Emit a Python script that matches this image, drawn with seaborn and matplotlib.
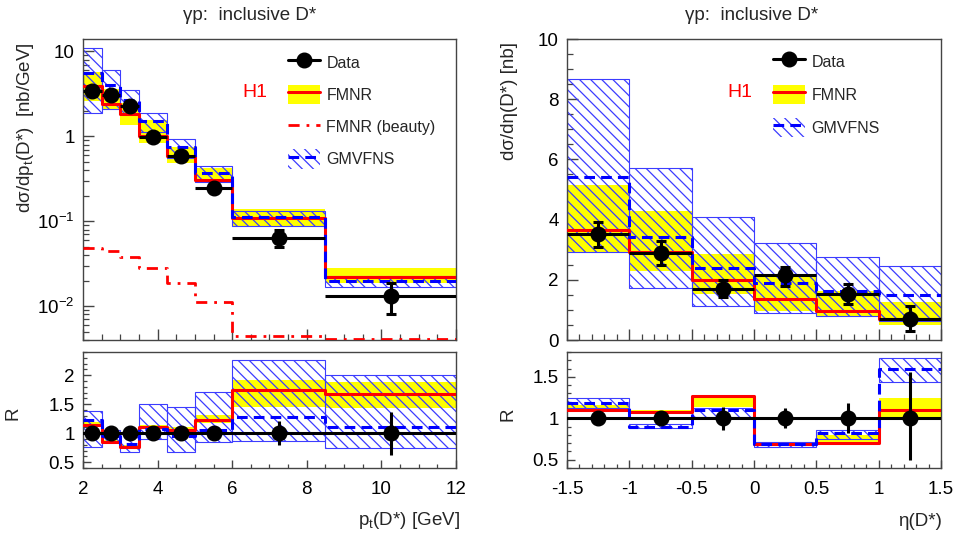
import numpy as np
import matplotlib
matplotlib.use("Agg")
import matplotlib.pyplot as plt
import seaborn as sns
from matplotlib.patches import Patch
from matplotlib.lines import Line2D
from matplotlib.ticker import (MultipleLocator, FixedLocator, FixedFormatter,
                               NullFormatter, FuncFormatter)

# ---------------- data: pt(D*) distribution ----------------
pt_edges = [2, 2.5, 3, 3.5, 4.25, 5, 6, 8.5, 12]
pt_data_x = [2.25, 2.75, 3.25, 3.87, 4.62, 5.5, 7.25, 10.25]
pt_data = [3.45, 3.1, 2.25, 0.98, 0.58, 0.25, 0.064, 0.0132]
pt_data_err_up = [0.45, 0.35, 0.22, 0.09, 0.055, 0.025, 0.015, 0.0055]
pt_data_err_dn = [0.45, 0.35, 0.22, 0.09, 0.055, 0.025, 0.014, 0.005]
pt_fmnr = [3.9, 2.4, 1.85, 1.02, 0.58, 0.306, 0.108, 0.0223]
pt_fmnr_lo = [2.6, 2.06, 1.37, 0.83, 0.48, 0.285, 0.087, 0.0186]
pt_fmnr_hi = [5.8, 3.6, 2.5, 1.57, 0.76, 0.42, 0.138, 0.0279]
pt_beauty = [0.049, 0.045, 0.0383, 0.0284, 0.0186, 0.0113, 0.00449, 0.0041]
pt_gmvfns = [5.6, 4.0, 2.69, 1.5, 0.76, 0.37, 0.113, 0.0198]
pt_gmvfns_lo = [1.9, 2.08, 1.85, 1.12, 0.55, 0.294, 0.088, 0.0167]
pt_gmvfns_hi = [11.0, 6.1, 3.55, 1.9, 0.93, 0.449, 0.134, 0.0226]

# ratio panel (pt)
r_pt_data_err = [0.06, 0.05, 0.05, 0.05, 0.06, 0.1, 0.21, 0.37]
r_pt_fmnr = [1.15, 0.85, 0.77, 1.11, 1.05, 1.22, 1.74, 1.67]
r_pt_fmnr_lo = [1.10, 0.82, 0.74, 1.07, 1.00, 1.17, 1.46, 1.44]
r_pt_fmnr_hi = [1.20, 0.88, 0.80, 1.15, 1.10, 1.32, 1.91, 1.88]
r_pt_gmvfns = [1.23, 0.95, 0.82, 1.08, 0.95, 1.05, 1.28, 1.11]
r_pt_gmvfns_lo = [0.77, 0.87, 0.68, 0.90, 0.67, 0.85, 0.86, 0.74]
r_pt_gmvfns_hi = [1.39, 1.06, 1.00, 1.51, 1.45, 1.71, 2.26, 2.01]

# ---------------- data: eta(D*) distribution ----------------
eta_edges = [-1.5, -1, -0.5, 0, 0.5, 1, 1.5]
eta_data_x = [-1.25, -0.75, -0.25, 0.25, 0.75, 1.25]
eta_data = [3.53, 2.9, 1.70, 2.17, 1.53, 0.70]
eta_data_err_up = [0.39, 0.39, 0.28, 0.25, 0.34, 0.44]
eta_data_err_dn = [0.44, 0.42, 0.28, 0.36, 0.33, 0.41]
eta_fmnr = [3.64, 2.92, 1.98, 1.37, 0.98, 0.70]
eta_fmnr_lo = [2.92, 2.29, 1.53, 0.98, 0.76, 0.51]
eta_fmnr_hi = [5.14, 4.28, 2.87, 2.20, 1.64, 1.26]
eta_gmvfns = [5.4, 3.42, 2.39, 1.89, 1.64, 1.5]
eta_gmvfns_lo = [2.92, 1.73, 1.14, 0.89, 0.81, 0.62]
eta_gmvfns_hi = [8.68, 5.72, 4.09, 3.23, 2.76, 2.46]

# ratio panel (eta)
r_eta_data_err_up = [0.04, 0.04, 0.14, 0.12, 0.18, 0.56]
r_eta_data_err_dn = [0.04, 0.04, 0.14, 0.12, 0.18, 0.50]
r_eta_fmnr = [1.10, 1.08, 1.27, 0.69, 0.70, 1.10]
r_eta_fmnr_lo = [1.08, 1.06, 1.14, 0.67, 0.70, 1.01]
r_eta_fmnr_hi = [1.16, 1.10, 1.26, 0.71, 0.80, 1.24]
r_eta_gmvfns = [1.19, 0.90, 1.10, 0.69, 0.82, 1.59]
r_eta_gmvfns_lo = [1.13, 0.88, 1.02, 0.65, 0.75, 1.44]
r_eta_gmvfns_hi = [1.25, 0.93, 1.13, 0.71, 0.86, 1.73]

title_text = "\u03b3p:  inclusive D*"

# ---------------- style ----------------
sns.set_theme(style="white")
plt.rcParams["font.family"] = ["Liberation Sans", "DejaVu Sans"]
plt.rcParams["mathtext.fontset"] = "custom"
plt.rcParams["mathtext.rm"] = "Liberation Sans"
plt.rcParams["mathtext.it"] = "Liberation Sans:italic"
plt.rcParams["axes.unicode_minus"] = False
plt.rcParams["hatch.linewidth"] = 0.9

YELLOW = "#ffff00"
RED = "#ff0000"
BLUE = "#0000ff"
HBLUE = "#3c3cff"
TICKC = "#444444"
FS = 13.5
HATCH = "\\\\\\"

fig = plt.figure(figsize=(9.57, 5.43), dpi=100)
axL = fig.add_axes([0.0867, 0.3738, 0.3898, 0.5543])
axLr = fig.add_axes([0.0867, 0.1381, 0.3898, 0.2136])
axR = fig.add_axes([0.5925, 0.3738, 0.3908, 0.5543])
axRr = fig.add_axes([0.5925, 0.1381, 0.3908, 0.2136])


def band(ax, edges, lo, hi, kind):
    e = np.asarray(edges, float)
    lo = np.asarray(lo, float)
    hi = np.asarray(hi, float)
    if kind == "yellow":
        ax.bar(e[:-1], hi - lo, bottom=lo, width=np.diff(e), align="edge",
               color=YELLOW, linewidth=0, zorder=1)
    else:
        ax.bar(e[:-1], hi - lo, bottom=lo, width=np.diff(e), align="edge",
               facecolor="none", edgecolor=HBLUE, hatch=HATCH, linewidth=0.8,
               zorder=2)


def step(ax, edges, vals, color, ls="-", lw=2.2, z=3):
    yy = list(vals) + [vals[-1]]
    sns.lineplot(x=list(edges), y=yy, drawstyle="steps-post", color=color,
                 linestyle=ls, linewidth=lw, ax=ax, zorder=z, estimator=None,
                 sort=False, legend=False)


def data_points(ax, edges, xs, ys, up, dn, caps=True, ms=10.5):
    e = np.asarray(edges, float)
    half = np.diff(e) / 2.0
    centers = (e[:-1] + e[1:]) / 2.0
    if caps:
        ax.errorbar(centers, ys, xerr=half, fmt="none", ecolor="black",
                    elinewidth=2.2, capsize=0, zorder=5)
    ax.errorbar(xs, ys, yerr=[dn, up], fmt="o", color="black", ms=ms,
                elinewidth=2.2, capsize=3.5 if caps else 0, capthick=2.2,
                zorder=6)


def frame(ax, major_len=8, minor_len=4):
    for s in ax.spines.values():
        s.set_color(TICKC)
        s.set_linewidth(1.0)
        s.set_visible(True)
    ax.tick_params(which="both", direction="in", top=False, right=False,
                   bottom=True, left=True, color=TICKC, labelsize=FS,
                   labelcolor="black")
    ax.tick_params(which="major", length=major_len, width=1.0, pad=6)
    ax.tick_params(which="minor", length=minor_len, width=0.9)
    ax.set_xlabel("")
    ax.set_ylabel("")


gfmt = FuncFormatter(lambda v, p: ("%g" % round(v, 3)) if abs(v) > 1e-9 else "0")

dash_blue = (0, (3.5, 2.0))
dash_beauty = (0, (4.0, 2.5, 1.0, 2.5))

# ---------------- left top: pt ----------------
ax = axL
ax.set_yscale("log")
band(ax, pt_edges, pt_fmnr_lo, pt_fmnr_hi, "yellow")
band(ax, pt_edges, pt_gmvfns_lo, pt_gmvfns_hi, "hatch")
step(ax, pt_edges, pt_fmnr, RED, "-", 2.2, 3)
step(ax, pt_edges, pt_beauty, RED, dash_beauty, 2.0, 3)
step(ax, pt_edges, pt_gmvfns, BLUE, dash_blue, 2.2, 4)
data_points(ax, pt_edges, pt_data_x, pt_data, pt_data_err_up, pt_data_err_dn)
ax.set_xlim(2, 12)
ax.set_ylim(0.004, 14)
frame(ax)
ax.yaxis.set_major_locator(FixedLocator([0.01, 0.1, 1, 10]))
ax.yaxis.set_major_formatter(FixedFormatter(["10$^{-2}$", "10$^{-1}$", "1", "10"]))
ax.yaxis.set_minor_locator(FixedLocator([m * 10.0 ** k for k in (-3, -2, -1, 0, 1) for m in range(2, 10)]))
ax.yaxis.set_minor_formatter(NullFormatter())
ax.xaxis.set_major_locator(MultipleLocator(2))
ax.xaxis.set_minor_locator(MultipleLocator(0.5))
ax.tick_params(axis="x", labelbottom=False)
ax.set_ylabel("d\u03c3/dp$_{\\rm t}$(D*)  [nb/GeV]", fontsize=FS, loc="top")
ax.yaxis.set_label_coords(-0.125, 0.99)
ax.text(0.46, 0.823, "H1", color=RED, fontsize=14, transform=ax.transAxes,
        ha="center", va="center")
hL = [Line2D([], [], color="black", marker="o", ms=10.5, lw=2.2),
      (Patch(facecolor=YELLOW, edgecolor="none"), Line2D([], [], color=RED, lw=2.2)),
      Line2D([], [], color=RED, lw=2.0, linestyle=dash_beauty),
      (Patch(facecolor="none", edgecolor=HBLUE, hatch=HATCH, linewidth=0),
       Line2D([], [], color=BLUE, lw=2.2, linestyle=dash_blue))]
ax.legend(hL, ["Data", "FMNR", "FMNR (beauty)", "GMVFNS"], loc="upper left",
          bbox_to_anchor=(0.55, 0.955), frameon=False, fontsize=11.5,
          handlelength=2.0, handleheight=1.5, labelspacing=0.8,
          handletextpad=0.4, borderpad=0, borderaxespad=0)

# ---------------- left bottom: pt ratio ----------------
ax = axLr
band(ax, pt_edges, r_pt_fmnr_lo, r_pt_fmnr_hi, "yellow")
band(ax, pt_edges, r_pt_gmvfns_lo, r_pt_gmvfns_hi, "hatch")
step(ax, pt_edges, r_pt_fmnr, RED, "-", 2.2, 3)
step(ax, pt_edges, r_pt_gmvfns, BLUE, dash_blue, 2.2, 4)
ax.axhline(1.0, color="black", lw=2.2, zorder=5)
data_points(ax, pt_edges, pt_data_x, [1.0] * len(pt_data_x), r_pt_data_err,
            r_pt_data_err, caps=False)
ax.set_xlim(2, 12)
ax.set_ylim(0.4, 2.4)
frame(ax, 6, 3)
ax.xaxis.set_major_locator(MultipleLocator(2))
ax.xaxis.set_minor_locator(MultipleLocator(0.5))
ax.yaxis.set_major_locator(FixedLocator([0.5, 1, 1.5, 2]))
ax.yaxis.set_major_formatter(FixedFormatter(["0.5", "1", "1.5", "2"]))
ax.yaxis.set_minor_locator(MultipleLocator(0.1))
ax.tick_params(axis="x", pad=9)
ax.set_ylabel("R", fontsize=FS)
ax.yaxis.set_label_coords(-0.165, 0.47)
ax.set_xlabel("p$_{\\rm t}$(D*) [GeV]", fontsize=FS, loc="right")
ax.xaxis.set_label_coords(1.011, -0.36)

# ---------------- right top: eta ----------------
ax = axR
band(ax, eta_edges, eta_fmnr_lo, eta_fmnr_hi, "yellow")
band(ax, eta_edges, eta_gmvfns_lo, eta_gmvfns_hi, "hatch")
step(ax, eta_edges, eta_fmnr, RED, "-", 2.2, 3)
step(ax, eta_edges, eta_gmvfns, BLUE, dash_blue, 2.2, 4)
data_points(ax, eta_edges, eta_data_x, eta_data, eta_data_err_up, eta_data_err_dn)
ax.set_xlim(-1.5, 1.5)
ax.set_ylim(0, 10)
frame(ax)
ax.yaxis.set_major_locator(MultipleLocator(2))
ax.yaxis.set_minor_locator(MultipleLocator(0.5))
ax.xaxis.set_major_locator(MultipleLocator(0.5))
ax.xaxis.set_minor_locator(MultipleLocator(0.1))
ax.tick_params(axis="x", labelbottom=False)
ax.set_ylabel("d\u03c3/d\u03b7(D*) [nb]", fontsize=FS, loc="top")
ax.yaxis.set_label_coords(-0.132, 0.99)
ax.text(0.462, 0.823, "H1", color=RED, fontsize=14, transform=ax.transAxes,
        ha="center", va="center")
hR = [Line2D([], [], color="black", marker="o", ms=10.5, lw=2.2),
      (Patch(facecolor=YELLOW, edgecolor="none"), Line2D([], [], color=RED, lw=2.2)),
      (Patch(facecolor="none", edgecolor=HBLUE, hatch=HATCH, linewidth=0),
       Line2D([], [], color=BLUE, lw=2.2, linestyle=dash_blue))]
ax.legend(hR, ["Data", "FMNR", "GMVFNS"], loc="upper left",
          bbox_to_anchor=(0.551, 0.958), frameon=False, fontsize=11.5,
          handlelength=2.0, handleheight=1.5, labelspacing=0.85,
          handletextpad=0.4, borderpad=0, borderaxespad=0)

# ---------------- right bottom: eta ratio ----------------
ax = axRr
band(ax, eta_edges, r_eta_fmnr_lo, r_eta_fmnr_hi, "yellow")
band(ax, eta_edges, r_eta_gmvfns_lo, r_eta_gmvfns_hi, "hatch")
step(ax, eta_edges, r_eta_fmnr, RED, "-", 2.2, 3)
step(ax, eta_edges, r_eta_gmvfns, BLUE, dash_blue, 2.2, 4)
ax.axhline(1.0, color="black", lw=2.2, zorder=5)
data_points(ax, eta_edges, eta_data_x, [1.0] * len(eta_data_x), r_eta_data_err_up,
            r_eta_data_err_dn, caps=False)
ax.set_xlim(-1.5, 1.5)
ax.set_ylim(0.4, 1.8)
frame(ax, 6, 3)
ax.xaxis.set_major_locator(MultipleLocator(0.5))
ax.xaxis.set_minor_locator(MultipleLocator(0.1))
ax.xaxis.set_major_formatter(gfmt)
ax.yaxis.set_major_locator(FixedLocator([0.5, 1, 1.5]))
ax.yaxis.set_major_formatter(FixedFormatter(["0.5", "1", "1.5"]))
ax.yaxis.set_minor_locator(MultipleLocator(0.1))
ax.tick_params(axis="x", pad=9)
ax.set_ylabel("R", fontsize=FS)
ax.yaxis.set_label_coords(-0.134, 0.46)
ax.set_xlabel("\u03b7(D*)", fontsize=FS, loc="right")
ax.xaxis.set_label_coords(1.003, -0.385)

# ---------------- titles ----------------
fig.text(250 / 957, 1 - 15 / 543, title_text, fontsize=FS, ha="center", va="center")
fig.text(752 / 957, 1 - 15 / 543, title_text, fontsize=FS, ha="center", va="center")

fig.savefig("out.png", dpi=100)
